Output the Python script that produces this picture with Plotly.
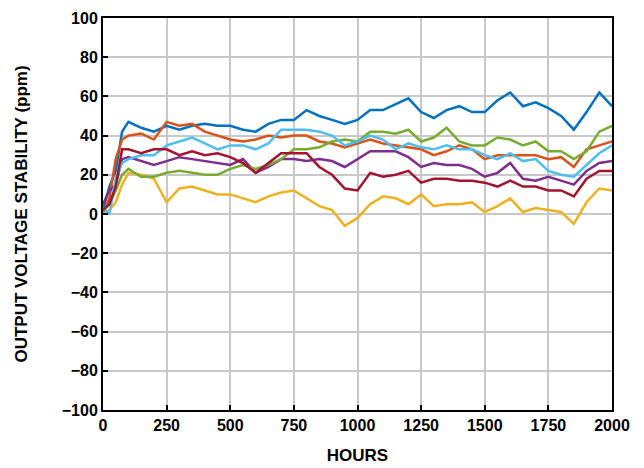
import plotly.graph_objects as go

hours = [0, 25, 50, 75, 100] + list(range(150, 2001, 50))

blue = [2, 14, 22, 42, 47, 44, 42, 45, 43, 45, 46, 45, 45, 43, 42, 46, 48, 48, 53, 50, 48, 46, 48,
        53, 53, 56, 59, 52, 49, 53, 55, 52, 52, 58, 62, 55, 57, 54, 50, 43, 52, 62, 55]
orange = [0, 8, 28, 38, 40, 41, 38, 47, 45, 46, 42, 40, 38, 37, 38, 40, 39, 40, 40, 37, 36, 34, 36,
          38, 36, 35, 34, 33, 30, 32, 35, 33, 28, 30, 30, 30, 30, 28, 29, 24, 33, 35, 37]
yellow = [0, 2, 6, 15, 21, 20, 18, 6, 13, 14, 12, 10, 10, 8, 6, 9, 11, 12, 8, 4, 2, -6, -2,
          5, 9, 8, 5, 10, 4, 5, 5, 6, 1, 4, 8, 1, 3, 2, 1, -5, 6, 13, 12]
purple = [5, 12, 15, 28, 29, 27, 25, 27, 29, 28, 27, 26, 25, 28, 21, 24, 28, 28, 27, 28, 27, 24, 28,
          32, 32, 32, 29, 24, 26, 25, 25, 23, 19, 21, 26, 18, 17, 19, 17, 15, 22, 26, 27]
green = [2, 5, 12, 20, 23, 19, 19, 21, 22, 21, 20, 20, 23, 25, 23, 25, 28, 33, 33, 34, 37, 38, 37,
         42, 42, 41, 43, 37, 39, 44, 37, 35, 35, 39, 38, 35, 37, 32, 32, 28, 32, 42, 45]
lightblue = [3, 0, 18, 26, 28, 30, 30, 35, 37, 39, 36, 33, 35, 35, 33, 36, 43, 43, 43, 42, 40, 35, 37,
             40, 38, 33, 36, 34, 33, 35, 33, 33, 30, 28, 31, 27, 28, 22, 20, 19, 25, 31, 35]
darkred = [2, 5, 14, 33, 33, 31, 33, 33, 30, 32, 30, 31, 29, 26, 21, 26, 31, 31, 31, 24, 20, 13, 12,
           21, 19, 20, 22, 16, 18, 18, 17, 17, 16, 14, 17, 14, 14, 12, 12, 9, 18, 22, 22]

series = [
    ("blue", blue, "#0072BD"),
    ("orange", orange, "#D95319"),
    ("yellow", yellow, "#EDB120"),
    ("purple", purple, "#7E2F8E"),
    ("green", green, "#77AC30"),
    ("lightblue", lightblue, "#4DBEEE"),
    ("darkred", darkred, "#A2142F"),
]

x_ticks = [0, 250, 500, 750, 1000, 1250, 1500, 1750, 2000]
y_ticks = [100, 80, 60, 40, 20, 0, -20, -40, -60, -80, -100]

fig = go.Figure()
for name, vals, col in series:
    fig.add_trace(go.Scatter(x=hours, y=vals, mode="lines", name=name,
                             line=dict(color=col, width=2.5), showlegend=False))

font_family = "Liberation Sans Narrow, Arial Narrow, Liberation Sans, Arial"
axis_common = dict(
    showline=True, linecolor="black", linewidth=2, mirror=True,
    showgrid=True, gridcolor="#c8c8c8", gridwidth=1.5,
    ticks="inside", ticklen=5, tickwidth=1.5, tickcolor="black",
    tickfont=dict(family=font_family, size=16, color="black", weight="bold"),
    zeroline=False, automargin=False,
)
fig.update_layout(
    width=644, height=468,
    margin=dict(l=103, r=32, t=18, b=58),
    plot_bgcolor="white", paper_bgcolor="white",
    xaxis=dict(range=[0, 2000], tickvals=x_ticks,
               title=dict(text="HOURS", standoff=16,
                          font=dict(family=font_family, size=17, color="black", weight="bold")),
               **axis_common),
    yaxis=dict(range=[-100, 100], tickvals=y_ticks,
               title=dict(text="OUTPUT VOLTAGE STABILITY (ppm)", standoff=30,
                          font=dict(family=font_family, size=17, color="black", weight="bold")),
               **axis_common),
)
fig.write_html("out.html")
